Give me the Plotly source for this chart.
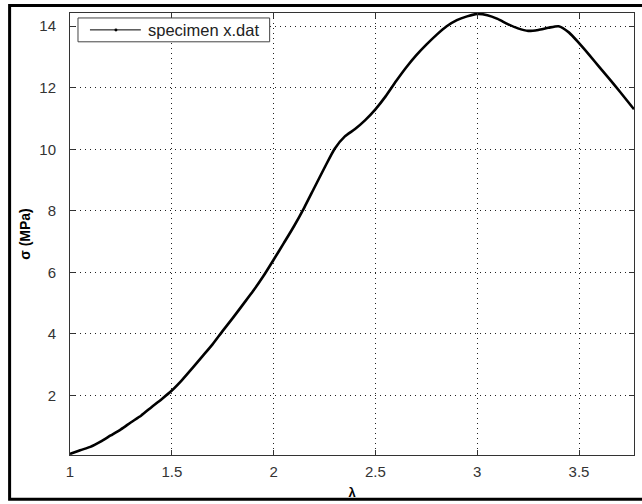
import plotly.graph_objects as go

# stretch ratio lambda
lam = [1.0, 1.05, 1.1, 1.15, 1.2, 1.25, 1.3, 1.35, 1.4, 1.45, 1.5, 1.55, 1.6, 1.65, 1.7,
       1.75, 1.8, 1.85, 1.9, 1.95, 2.0, 2.05, 2.1, 2.15, 2.2, 2.25, 2.3, 2.35, 2.4, 2.45,
       2.5, 2.55, 2.6, 2.65, 2.7, 2.75, 2.8, 2.85, 2.9, 2.95, 3.0, 3.05, 3.1, 3.15, 3.2,
       3.25, 3.3, 3.35, 3.4, 3.45, 3.5, 3.55, 3.6, 3.65, 3.7, 3.77]
# stress sigma (MPa)
sigma = [0.1, 0.22, 0.33, 0.5, 0.7, 0.9, 1.13, 1.35, 1.62, 1.88, 2.16, 2.5, 2.88, 3.27, 3.66,
         4.1, 4.52, 4.96, 5.4, 5.88, 6.41, 6.95, 7.5, 8.1, 8.75, 9.4, 10.02, 10.42, 10.66, 10.95,
         11.3, 11.72, 12.2, 12.65, 13.05, 13.4, 13.72, 14.0, 14.2, 14.32, 14.4, 14.36, 14.24,
         14.07, 13.93, 13.85, 13.88, 13.95, 14.0, 13.8, 13.45, 13.07, 12.67, 12.28, 11.88, 11.3]

x_ticks = [1, 1.5, 2, 2.5, 3, 3.5]
x_labels = ["1", "1.5", "2", "2.5", "3", "3.5"]
y_ticks = [2, 4, 6, 8, 10, 12, 14]
y_labels = ["2", "4", "6", "8", "10", "12", "14"]

series_name = "specimen x.dat"

W, H = 642, 504
ML, MR, MT, MB = 70, 7, 13, 46
PW, PH = W - ML - MR, H - MT - MB


def px(xp):
    return (xp - ML) / PW


def py(yp):
    return (H - MB - yp) / PH


fig = go.Figure()
fig.add_trace(go.Scatter(x=lam, y=sigma, mode="lines", name=series_name,
                         line=dict(color="black", width=2.6, shape="spline", smoothing=0.6),
                         showlegend=False))

font_family = "Liberation Sans, Arial, sans-serif"
axis_common = dict(
    showline=True, linecolor="#333333", linewidth=1, mirror="ticks",
    ticks="inside", ticklen=5, tickcolor="#333333",
    showgrid=True, gridcolor="#222222", gridwidth=1, griddash="1px,4px",
    zeroline=False, tickfont=dict(family=font_family, size=15, color="#333333"),
)

# legend drawn as a boxed key (line sample + real text)
leg_x0, leg_x1, leg_y0, leg_y1 = 78, 270, 18, 42
leg_mid = (leg_y0 + leg_y1) / 2
shapes = [
    dict(type="rect", xref="paper", yref="paper",
         x0=px(9.5), x1=px(660), y0=py(502.5), y1=py(5.5),
         line=dict(color="black", width=3), fillcolor="rgba(0,0,0,0)", layer="above"),
    dict(type="rect", xref="paper", yref="paper",
         x0=px(leg_x0), x1=px(leg_x1), y0=py(leg_y1), y1=py(leg_y0),
         line=dict(color="#444444", width=1), fillcolor="white", layer="above"),
    dict(type="line", xref="paper", yref="paper",
         x0=px(90), x1=px(141), y0=py(leg_mid), y1=py(leg_mid),
         line=dict(color="black", width=1), layer="above"),
    dict(type="circle", xref="paper", yref="paper",
         x0=px(114.5), x1=px(117.5), y0=py(leg_mid + 1.5), y1=py(leg_mid - 1.5),
         line=dict(color="black", width=0), fillcolor="black", layer="above"),
]
annotations = [
    dict(text=series_name, xref="paper", yref="paper", x=px(146), y=py(leg_mid),
         xanchor="left", yanchor="middle", showarrow=False,
         font=dict(family=font_family, size=16.5, color="#222222")),
]

fig.update_layout(
    width=W, height=H,
    margin=dict(l=ML, r=MR, t=MT, b=MB),
    paper_bgcolor="white", plot_bgcolor="white",
    font=dict(family=font_family, color="#222222"),
    showlegend=False,
    xaxis=dict(range=[1, 3.77], tickvals=x_ticks, ticktext=x_labels,
               ticklabelstandoff=3,
               title=dict(text="<b>λ</b>", font=dict(size=13, color="black"), standoff=8),
               **axis_common),
    yaxis=dict(range=[0.065, 14.43], tickvals=y_ticks, ticktext=y_labels,
               ticklabelstandoff=10,
               title=dict(text="<b>σ (MPa)</b>", font=dict(size=14, color="black"), standoff=5),
               **axis_common),
    shapes=shapes,
    annotations=annotations,
)

fig.write_html("out.html")
